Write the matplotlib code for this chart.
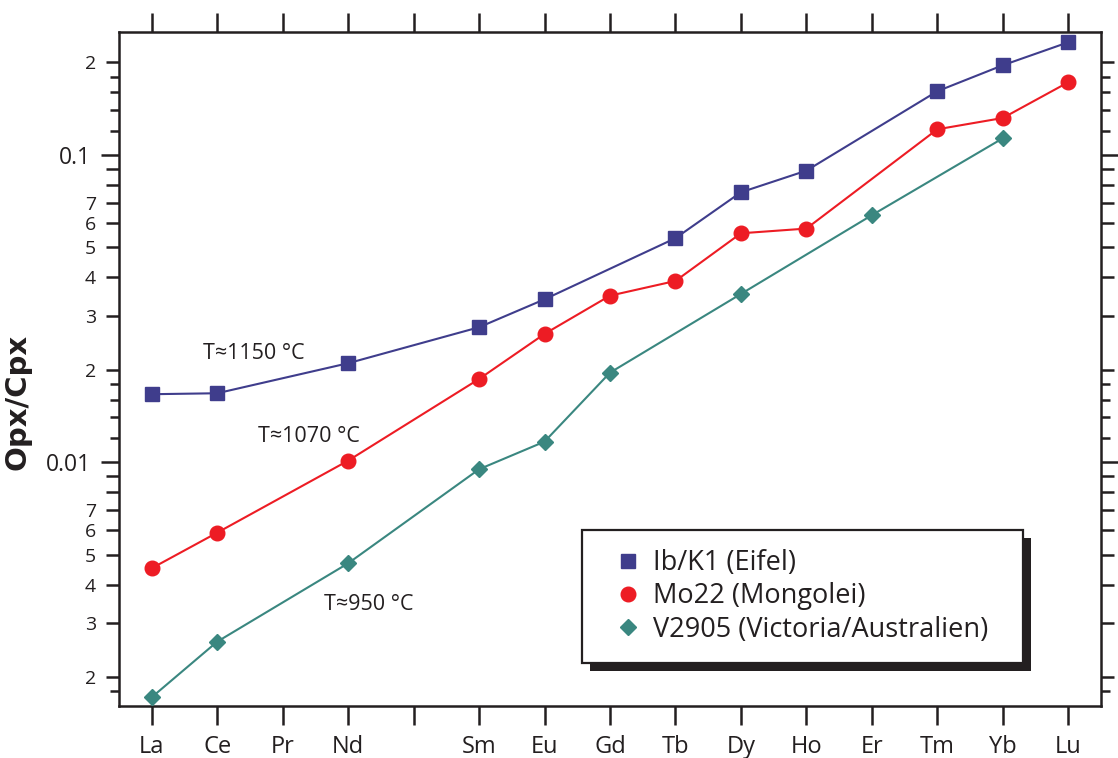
import numpy as np
import matplotlib
matplotlib.use("Agg")
import matplotlib.pyplot as plt
from matplotlib.patches import Rectangle
from matplotlib.ticker import FixedLocator, FixedFormatter, NullLocator

plt.rcParams['font.family'] = ['Open Sans', 'DejaVu Sans']

ink = '#231f20'

# rare earth elements along the x axis (Pm has no data and no label)
elements = ['La', 'Ce', 'Pr', 'Nd', 'Pm', 'Sm', 'Eu', 'Gd', 'Tb', 'Dy', 'Ho', 'Er', 'Tm', 'Yb', 'Lu']
tick_labels = ['La', 'Ce', 'Pr', 'Nd', '', 'Sm', 'Eu', 'Gd', 'Tb', 'Dy', 'Ho', 'Er', 'Tm', 'Yb', 'Lu']

# Ib/K1 (Eifel)
eifel_el = ['La', 'Ce', 'Nd', 'Sm', 'Eu', 'Tb', 'Dy', 'Ho', 'Tm', 'Yb', 'Lu']
eifel_val = [0.01665, 0.01677, 0.0210, 0.0275, 0.0339, 0.0536, 0.0756, 0.0889, 0.1612, 0.1958, 0.2326]

# Mo22 (Mongolei)
mongo_el = ['La', 'Ce', 'Nd', 'Sm', 'Eu', 'Gd', 'Tb', 'Dy', 'Ho', 'Tm', 'Yb', 'Lu']
mongo_val = [0.00452, 0.00590, 0.01012, 0.01866, 0.02616, 0.03484, 0.0389, 0.0556, 0.0576, 0.1212, 0.1319, 0.1724]

# V2905 (Victoria/Australien)
vic_el = ['La', 'Ce', 'Nd', 'Sm', 'Eu', 'Gd', 'Dy', 'Er', 'Yb']
vic_val = [0.001719, 0.002607, 0.00469, 0.009489, 0.01167, 0.01957, 0.03529, 0.06368, 0.1133]

# temperature notes next to each curve
temp_labels = ['T≈1150 °C', 'T≈1070 °C', 'T≈950 °C']
temp_x = [0.78, 1.62, 2.63]
temp_y = [0.02265, 0.01216, 0.003447]


def pos(names):
    return [elements.index(n) for n in names]


fig = plt.figure(figsize=(11.18, 7.58), dpi=100)
ax = fig.add_axes([119 / 1118, 1 - 706 / 758, 982 / 1118, 674.3 / 758])
# twin axis only carries the short ticks between 1 and 2 of each decade
ax2 = ax.twinx()

series = [
    (eifel_el, eifel_val, '#3f3d8c', 's', 9.5, 'Ib/K1 (Eifel)'),
    (mongo_el, mongo_val, '#ed1c24', 'o', 10.5, 'Mo22 (Mongolei)'),
    (vic_el, vic_val, '#3a8780', 'D', 8.5, 'V2905 (Victoria/Australien)'),
]
handles = []
for el, val, col, mk, ms, lab in series:
    h, = ax.plot(pos(el), val, color=col, lw=1.5, marker=mk, ms=ms,
                 mec=col, mfc=col, label=lab, zorder=3)
    handles.append(h)

ax.set_yscale('log')
ax.set_xlim(-0.5, 14.5)
ax.set_ylim(0.00161, 0.2518)

for s in ax.spines.values():
    s.set_linewidth(1.8)
    s.set_color(ink)

# x ticks on top and bottom
ax.set_xticks(range(len(elements)))
ax.set_xticklabels(tick_labels)
ax.tick_params(axis='x', which='major', direction='out', top=True, bottom=True,
               length=14, width=1.8, color=ink, labelsize=17, labelcolor=ink, pad=7)

# y ticks: decades, 2..9 and the finer steps in between 1 and 2
major_vals = [0.01, 0.1]
major_labels = ['0.01', '0.1']
minor_vals = [0.002, 0.003, 0.004, 0.005, 0.006, 0.007, 0.008, 0.009,
              0.02, 0.03, 0.04, 0.05, 0.06, 0.07, 0.08, 0.09, 0.2]
minor_labels = ['2', '3', '4', '5', '6', '7', '', '',
                '2', '3', '4', '5', '6', '7', '', '', '2']
fine_vals = [0.0018, 0.012, 0.014, 0.016, 0.018, 0.12, 0.14, 0.16, 0.18]

ax.yaxis.set_major_locator(FixedLocator(major_vals))
ax.yaxis.set_major_formatter(FixedFormatter(major_labels))
ax.yaxis.set_minor_locator(FixedLocator(minor_vals))
ax.yaxis.set_minor_formatter(FixedFormatter(minor_labels))
ax.tick_params(axis='y', which='major', direction='out', left=True, right=True,
               labelleft=True, labelright=False,
               length=13, width=1.8, color=ink, labelsize=16.5, labelcolor=ink, pad=7)
ax.tick_params(axis='y', which='minor', direction='out', left=True, right=True,
               labelleft=True, labelright=False,
               length=9.5, width=1.8, color=ink, labelsize=14, labelcolor=ink, pad=7)

ax2.set_yscale('log')
ax2.set_ylim(ax.get_ylim())
ax2.yaxis.set_major_locator(FixedLocator(fine_vals))
ax2.yaxis.set_minor_locator(NullLocator())
ax2.tick_params(axis='y', which='both', direction='out', left=True, right=True,
                labelleft=False, labelright=False, length=6.5, width=1.8, color=ink)
for s in ax2.spines.values():
    s.set_visible(False)

ax.set_ylabel('Opx/Cpx', fontsize=21, fontweight='bold', color=ink,
              family=['DejaVu Sans'])
ax.yaxis.set_label_coords(-0.0896, 0.451)

for t, x, y in zip(temp_labels, temp_x, temp_y):
    ax.text(x, y, t, fontsize=15.5, color=ink, ha='left', va='center')

# legend box with a solid drop shadow
bx0, bx1 = (582 - 119) / 982, (1023 - 119) / 982
by0, by1 = (706 - 663) / 674.3, (706 - 530) / 674.3
dx, dy = 8 / 982, 8 / 674.3
ax2.add_patch(Rectangle((bx0 + dx, by0 - dy), bx1 - bx0, by1 - by0, transform=ax.transAxes,
                        facecolor=ink, edgecolor=ink, lw=0, zorder=4, clip_on=False))
ax2.add_patch(Rectangle((bx0, by0), bx1 - bx0, by1 - by0, transform=ax.transAxes,
                        facecolor='white', edgecolor=ink, lw=1.6, zorder=5, clip_on=False))
leg = ax2.legend(handles=handles, loc='upper left',
                 bbox_to_anchor=((612 - 119) / 982, (706 - 549) / 674.3),
                 frameon=False, borderpad=0, borderaxespad=0, handlelength=1.2,
                 handletextpad=0.31, labelspacing=0.2, fontsize=19.5,
                 labelcolor=ink)
leg.set_zorder(6)
for lh in leg.legend_handles:
    lh.set_linestyle('none')

fig.savefig('out.png', dpi=100)
